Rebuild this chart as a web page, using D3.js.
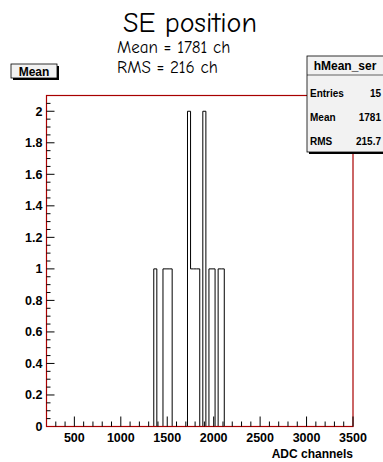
<!DOCTYPE html>
<html>
<head>
<meta charset="utf-8">
<script src="https://cdn.jsdelivr.net/npm/d3@7"></script>
<style>
  body { margin: 0; background: #fff; }
  svg { display: block; }
</style>
</head>
<body>
<script>
// histogram binning (ROOT style, 100 bins)
const xMin = 200, xMax = 3500, binWidth = 33;
// filled bins: low edge of bin and its content
const binStarts = [1355, 1454, 1487, 1520, 1718, 1751, 1784, 1817, 1883, 1949, 1982, 2048, 2081];
const binCounts = [1, 1, 1, 1, 2, 1, 1, 1, 2, 1, 1, 1, 1];
const xTicks = [500, 1000, 1500, 2000, 2500, 3000, 3500];
const yTicks = [0, 0.2, 0.4, 0.6, 0.8, 1, 1.2, 1.4, 1.6, 1.8, 2];
const statLabels = ["Entries", "Mean", "RMS"];
const statValues = ["15", "1781", "215.7"];

const width = 383,
    height = 462;
const frame = {left: 46.5, right: 353, top: 95.5, bottom: 426.5};
const frameColor = "#a80000";
const axisFont = "Liberation Sans, Arial, sans-serif";

const svg = d3.select("body").append("svg")
    .attr("width", width)
    .attr("height", height);

const x = d3.scaleLinear().domain([xMin, xMax]).range([frame.left, frame.right]);
const y = d3.scaleLinear().domain([0, 2.1]).range([frame.bottom, frame.top]);

// full bin list
const nBins = Math.round((xMax - xMin) / binWidth);
const bins = d3.range(nBins).map(i => ({x0: xMin + i * binWidth, n: 0}));
binStarts.forEach((s, i) => {
    const k = Math.round((s - xMin) / binWidth);
    bins[k].n = binCounts[i];
});
const pts = bins.map(b => [b.x0, b.n]);
pts.push([xMax, 0]);

// histogram outline
svg.append("path")
    .attr("d", d3.line().x(d => x(d[0])).y(d => y(d[1])).curve(d3.curveStepAfter)(pts))
    .attr("fill", "none")
    .attr("stroke", "#000")
    .attr("stroke-width", 1);

// frame
svg.append("rect")
    .attr("x", frame.left).attr("y", frame.top)
    .attr("width", frame.right - frame.left)
    .attr("height", frame.bottom - frame.top)
    .attr("fill", "none")
    .attr("stroke", frameColor)
    .attr("stroke-width", 1.2);

// x axis ticks
const xMinor = d3.range(300, xMax + 1, 100);
svg.append("g").selectAll("line").data(xMinor).join("line")
    .attr("x1", d => x(d)).attr("x2", d => x(d))
    .attr("y1", frame.bottom)
    .attr("y2", d => frame.bottom - (d % 500 === 0 ? 10 : 5))
    .attr("stroke", "#000");
svg.append("g").selectAll("text").data(xTicks).join("text")
    .attr("x", d => x(d)).attr("y", frame.bottom + 15)
    .attr("text-anchor", "middle")
    .attr("font-family", axisFont)
    .attr("font-weight", "bold")
    .attr("font-size", 12.5)
    .text(d => d);
svg.append("text")
    .attr("x", frame.right).attr("y", frame.bottom + 31)
    .attr("text-anchor", "end")
    .attr("font-family", axisFont)
    .attr("font-weight", "bold")
    .attr("font-size", 12)
    .text("ADC channels");

// y axis ticks
const yMinor = d3.range(0.05, 2.1, 0.05);
svg.append("g").selectAll("line").data(yMinor).join("line")
    .attr("x1", frame.left)
    .attr("x2", d => frame.left + (Math.abs(d * 5 - Math.round(d * 5)) < 1e-6 ? 8 : 4))
    .attr("y1", d => y(d)).attr("y2", d => y(d))
    .attr("stroke", "#000");
svg.append("g").selectAll("text").data(yTicks).join("text")
    .attr("x", frame.left - 4).attr("y", d => y(d) + 4.5)
    .attr("text-anchor", "end")
    .attr("font-family", axisFont)
    .attr("font-weight", "bold")
    .attr("font-size", 12.5)
    .text(d => d);

// title block
const titleFont = "'Comic Sans MS', 'Comic Neue', 'Open Sans', sans-serif";
svg.append("text")
    .attr("x", 190).attr("y", 32)
    .attr("text-anchor", "middle")
    .attr("font-family", titleFont)
    .attr("font-size", 28)
    .text("SE position");
svg.append("text")
    .attr("x", 117).attr("y", 53)
    .attr("font-family", titleFont)
    .attr("font-size", 17)
    .text("Mean = 1781 ch");
svg.append("text")
    .attr("x", 117).attr("y", 73)
    .attr("font-family", titleFont)
    .attr("font-size", 17)
    .text("RMS = 216 ch");

// "Mean" label box
svg.append("rect")
    .attr("x", 13).attr("y", 66).attr("width", 46).attr("height", 14)
    .attr("fill", "#000");
svg.append("rect")
    .attr("x", 11).attr("y", 64).attr("width", 46).attr("height", 14)
    .attr("fill", "#f2f2f2").attr("stroke", "#000").attr("stroke-width", 0.8);
svg.append("text")
    .attr("x", 34).attr("y", 75.5)
    .attr("text-anchor", "middle")
    .attr("font-family", axisFont)
    .attr("font-weight", "bold")
    .attr("font-size", 12)
    .text("Mean");

// stats box
const sb = {x: 307, y: 56, w: 78, h: 96};
svg.append("rect")
    .attr("x", sb.x + 2).attr("y", sb.y + 2).attr("width", sb.w).attr("height", sb.h)
    .attr("fill", "#000");
svg.append("rect")
    .attr("x", sb.x).attr("y", sb.y).attr("width", sb.w).attr("height", sb.h)
    .attr("fill", "#f2f2f2").attr("stroke", "#000").attr("stroke-width", 0.8);
svg.append("line")
    .attr("x1", sb.x).attr("x2", sb.x + sb.w)
    .attr("y1", sb.y + 19).attr("y2", sb.y + 19)
    .attr("stroke", "#000").attr("stroke-width", 0.6);
svg.append("text")
    .attr("x", 345).attr("y", sb.y + 14)
    .attr("text-anchor", "middle")
    .attr("font-family", axisFont)
    .attr("font-weight", "bold")
    .attr("font-size", 12)
    .text("hMean_ser");
const rowY = d3.scalePoint().domain(statLabels).range([sb.y + 41, sb.y + 89]);
svg.append("g").selectAll("text").data(statLabels).join("text")
    .attr("x", sb.x + 3).attr("y", d => rowY(d))
    .attr("font-family", axisFont)
    .attr("font-weight", "bold")
    .attr("font-size", 10)
    .text(d => d);
svg.append("g").selectAll("text").data(statValues).join("text")
    .attr("x", 381).attr("y", (d, i) => rowY(statLabels[i]))
    .attr("text-anchor", "end")
    .attr("font-family", axisFont)
    .attr("font-weight", "bold")
    .attr("font-size", 10)
    .text(d => d);
</script>
</body>
</html>
